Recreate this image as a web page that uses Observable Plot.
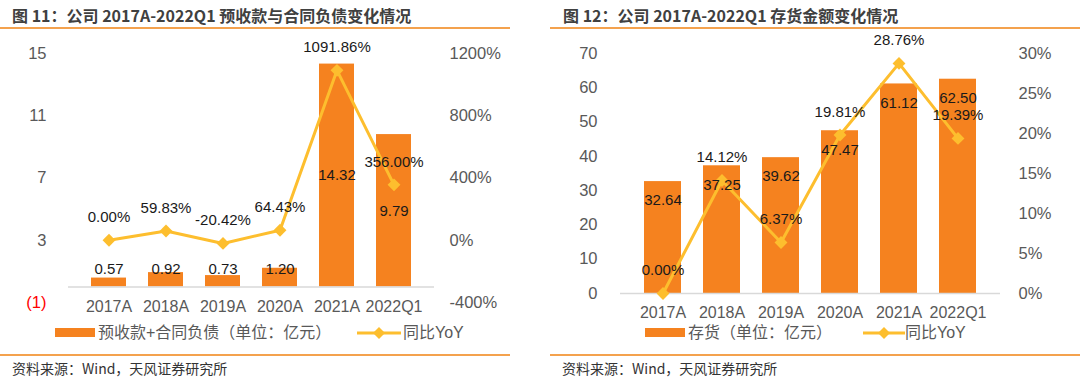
<!DOCTYPE html>
<html><head><meta charset="utf-8">
<script src="https://cdn.jsdelivr.net/npm/d3@7"></script>
<script src="https://cdn.jsdelivr.net/npm/@observablehq/plot@0.6"></script>
<style>
body{margin:0;background:#fff;}
#wrap{position:relative;width:1080px;height:378px;overflow:hidden;background:#fff;}
.title{position:absolute;top:5px;font-weight:bold;font-size:16px;font-family:"Noto Sans CJK SC",sans-serif;color:#404040;white-space:nowrap;line-height:20px;}
.hr{position:absolute;height:2px;background:#F4A24E;}
.src{position:absolute;top:359px;font-size:14px;font-family:"Noto Sans CJK SC",sans-serif;color:#333;line-height:18px;white-space:nowrap;}
.chart{position:absolute;top:30px;}
.sw{position:absolute;top:328px;height:9px;width:40px;background:#F5821F;}
.lt{position:absolute;top:323px;line-height:20px;font-size:16px;font-family:"Liberation Sans","Noto Sans CJK SC",sans-serif;color:#595959;white-space:nowrap;}
.ls{position:absolute;top:323px;}
</style></head>
<body>
<div id="wrap">
  <div class="title" style="left:12px">图 11：公司 2017A-2022Q1 预收款与合同负债变化情况</div>
  <div class="hr" style="left:0;width:510px;top:27px"></div>
  <div class="title" style="left:563px">图 12：公司 2017A-2022Q1 存货金额变化情况</div>
  <div class="hr" style="left:550px;width:530px;top:27px"></div>
  <div id="chartA" class="chart" style="left:0"></div>
  <div id="chartB" class="chart" style="left:540px"></div>
  <div class="sw" style="left:55px"></div>
  <div class="lt" style="left:98px">预收款+合同负债（单位：亿元）</div>
  <svg class="ls" style="left:357px" width="44" height="20"><line x1="0" x2="44" y1="10" y2="10" stroke="#FDBE2E" stroke-width="3"/><path d="M22,4L28,10L22,16L16,10Z" fill="#FDBE2E"/></svg>
  <div class="lt" style="left:403px">同比YoY</div>
  <div class="sw" style="left:645px"></div>
  <div class="lt" style="left:688px">存货（单位：亿元）</div>
  <svg class="ls" style="left:863px" width="42" height="20"><line x1="0" x2="42" y1="10" y2="10" stroke="#FDBE2E" stroke-width="3"/><path d="M21,4L27,10L21,16L15,10Z" fill="#FDBE2E"/></svg>
  <div class="lt" style="left:905px">同比YoY</div>
  <div class="hr" style="left:0;width:510px;top:354px"></div>
  <div class="hr" style="left:550px;width:530px;top:354px"></div>
  <div class="src" style="left:12px">资料来源：Wind，天风证券研究所</div>
  <div class="src" style="left:562px">资料来源：Wind，天风证券研究所</div>
</div>
<script>
// ---- data ----
const catsA = ["2017A","2018A","2019A","2020A","2021A","2022Q1"];
const advanceLiab = [0.57, 0.92, 0.73, 1.20, 14.32, 9.79];
const advanceYoY = [0.00, 59.83, -20.42, 64.43, 1091.86, 356.00];
const leftTicksA = [3, 7, 11, 15];
const negTickA = [-1];
const rightTicksA = [-400, 0, 400, 800, 1200];

const catsB = ["2017A","2018A","2019A","2020A","2021A","2022Q1"];
const inventory = [32.64, 37.25, 39.62, 47.47, 61.12, 62.50];
const inventoryYoY = [0.00, 14.12, 6.37, 19.81, 28.76, 19.39];
const leftTicksB = [0, 10, 20, 30, 40, 50, 60, 70];
const rightTicksB = [0, 5, 10, 15, 20, 25, 30];

const BAR = "#F5821F", LINE = "#FDBE2E", AXIS = "#595959", LAB = "#1a1a1a";
const FONT = "Liberation Sans, Arial, sans-serif";
const AFS = 16.5;

// ---- chart A ----
const toA = p => p / 100 + 3;   // secondary axis (-400%..1200%) onto primary (-1..15)
const dataA = catsA.map((c, i) => ({c, v: advanceLiab[i], p: advanceYoY[i], py: toA(advanceYoY[i])}));
const chartA = Plot.plot({
  width: 540, height: 292, marginTop: 23, marginBottom: 20, marginLeft: 68, marginRight: 106,
  x: {domain: catsA, padding: 0.38},
  y: {domain: [-1, 15]},
  style: {fontFamily: FONT, background: "transparent", overflow: "visible"},
  marks: [
    Plot.barY(dataA, {x: "c", y: "v", fill: BAR}),
    Plot.ruleY([0], {stroke: "#D9D9D9", strokeWidth: 1.5}),
    Plot.axisX({tickSize: 0, tickPadding: -2, fontSize: 16, color: AXIS, fill: AXIS, label: null}),
    Plot.axisY(leftTicksA, {anchor: "left", tickSize: 0, tickPadding: 22, fontSize: AFS, color: AXIS, fill: AXIS, label: null, tickFormat: d => String(d)}),
    Plot.axisY(negTickA, {anchor: "left", tickSize: 0, tickPadding: 22, fontSize: AFS, color: "#FF0000", fill: "#FF0000", label: null, tickFormat: d => "(" + Math.abs(d) + ")"}),
    Plot.axisY(rightTicksA.map(toA), {anchor: "right", tickSize: 0, tickPadding: 15, fontSize: AFS, color: AXIS, fill: AXIS, label: null, tickFormat: d => Math.round((d - 3) * 100) + "%"}),
    Plot.line(dataA, {x: "c", y: "py", stroke: LINE, strokeWidth: 3}),
    Plot.dot(dataA, {x: "c", y: "py", symbol: "diamond2", r: 5.8, fill: LINE, stroke: "none"}),
    Plot.text(dataA.filter(d => d.v > 3), {x: "c", y: d => d.v / 2, text: d => d.v.toFixed(2), fontSize: 15, fill: LAB}),
    Plot.text(dataA.filter(d => d.v <= 3), {x: "c", y: 0, dy: -18, text: d => d.v.toFixed(2), fontSize: 15, fill: LAB}),
    Plot.text(dataA, {x: "c", y: "py", dy: -23, text: d => d.p.toFixed(2) + "%", fontSize: 15, fill: LAB})
  ]
});
document.getElementById("chartA").appendChild(chartA);

// ---- chart B ----
const toB = p => p * 70 / 30;   // secondary axis (0..30%) onto primary (0..70)
const dataB = catsB.map((c, i) => ({c, v: inventory[i], p: inventoryYoY[i], py: toB(inventoryYoY[i])}));
const chartB = Plot.plot({
  width: 540, height: 292, marginTop: 23, marginBottom: 29, marginLeft: 80, marginRight: 80,
  x: {domain: catsB, padding: 0.37},
  y: {domain: [0, 70]},
  style: {fontFamily: FONT, background: "transparent", overflow: "visible"},
  marks: [
    Plot.barY(dataB, {x: "c", y: "v", fill: BAR}),
    Plot.ruleY([0], {stroke: "#D9D9D9", strokeWidth: 1.5}),
    Plot.axisX({tickSize: 0, tickPadding: 13, fontSize: 16, color: AXIS, fill: AXIS, label: null}),
    Plot.axisY(leftTicksB, {anchor: "left", tickSize: 0, tickPadding: 23, fontSize: AFS, color: AXIS, fill: AXIS, label: null, tickFormat: d => String(d)}),
    Plot.axisY(rightTicksB.map(toB), {anchor: "right", tickSize: 0, tickPadding: 18, fontSize: AFS, color: AXIS, fill: AXIS, label: null, tickFormat: d => Math.round(d * 30 / 70) + "%"}),
    Plot.line(dataB, {x: "c", y: "py", stroke: LINE, strokeWidth: 3}),
    Plot.dot(dataB, {x: "c", y: "py", symbol: "diamond2", r: 5.8, fill: LINE, stroke: "none"}),
    Plot.text(dataB, {x: "c", y: "v", dy: 19, text: d => d.v.toFixed(2), fontSize: 15, fill: LAB}),
    Plot.text(dataB, {x: "c", y: "py", dy: -23, text: d => d.p.toFixed(2) + "%", fontSize: 15, fill: LAB})
  ]
});
document.getElementById("chartB").appendChild(chartB);
</script>
</body></html>
